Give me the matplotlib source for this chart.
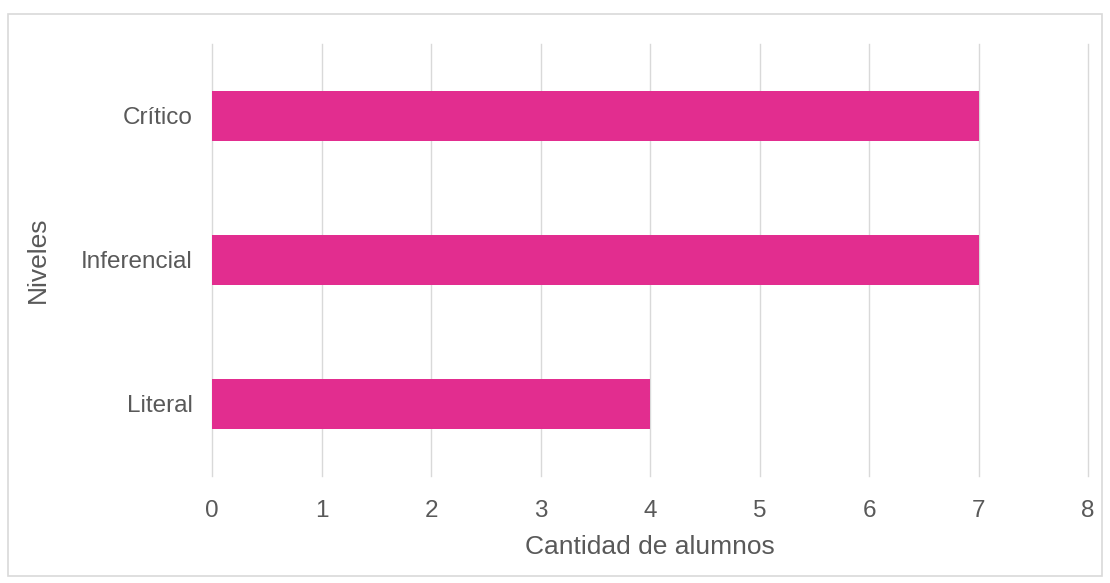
import matplotlib.pyplot as plt
from matplotlib.patches import Rectangle

niveles = ['Literal', 'Inferencial', 'Crítico']
alumnos = [4, 7, 7]
xticks = [0, 1, 2, 3, 4, 5, 6, 7, 8]

plt.rcParams['font.family'] = ['Liberation Sans', 'DejaVu Sans']

W, H = 1110, 583
fig = plt.figure(figsize=(W / 100, H / 100), dpi=100)
ax = fig.add_axes([212 / W, 1 - 476 / H, (1088 - 212) / W, (476 - 44) / H])

ax.barh(niveles, alumnos, height=0.35, color='#E22D8F', zorder=3)

ax.set_xlim(0, 8)
ax.set_ylim(-0.5, 2.5)
ax.set_xticks(xticks)
ax.grid(axis='x', color='#D9D9D9', linewidth=1, zorder=0)
for gl in ax.get_xgridlines():
    gl.set_clip_on(False)
for s in ax.spines.values():
    s.set_visible(False)
ax.tick_params(length=0, colors='#595959', labelsize=17.5)
ax.tick_params(axis='x', pad=17)
ax.tick_params(axis='y', pad=14)

ax.set_xlabel('Cantidad de alumnos', fontsize=19, color='#595959', labelpad=10)
ax.set_ylabel('Niveles', fontsize=19, color='#595959', labelpad=22)

# outer chart border
fig.patches.append(Rectangle((8 / W, 1 - 576 / H), (1102 - 8) / W, (576 - 14) / H,
                             transform=fig.transFigure, fill=False,
                             edgecolor='#D9D9D9', linewidth=1.2))

fig.savefig('out.png', dpi=100)
